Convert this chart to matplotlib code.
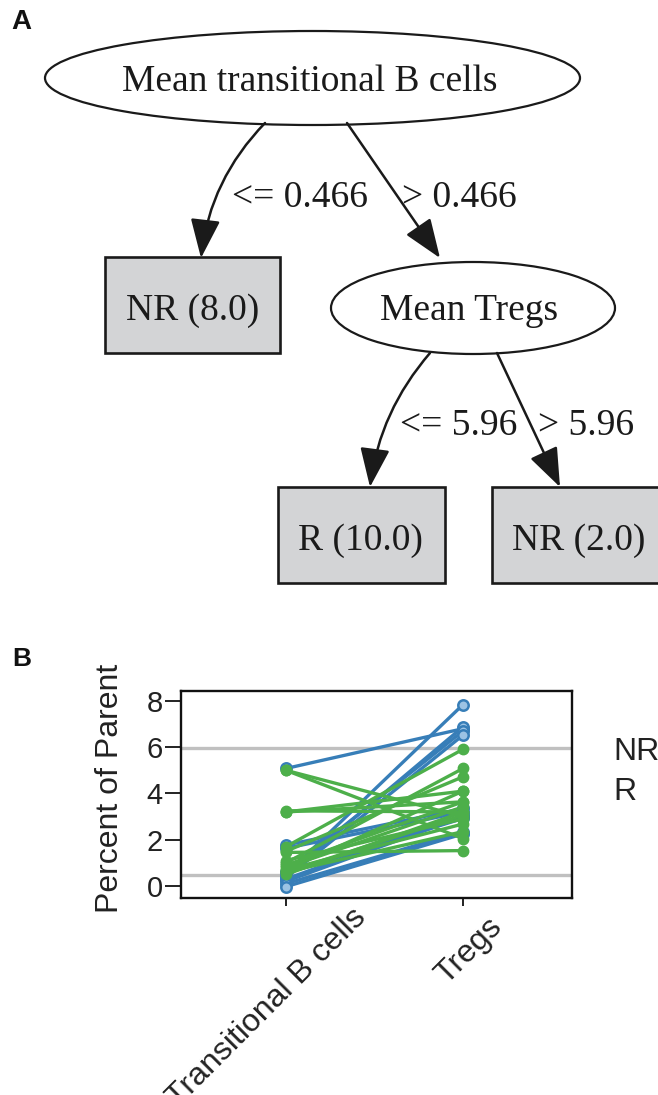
import matplotlib
matplotlib.use("Agg")
import matplotlib.pyplot as plt
from matplotlib.patches import Ellipse, Rectangle, FancyArrowPatch, ArrowStyle
from matplotlib.transforms import ScaledTranslation

# ---------------- data ----------------
categories = ["Transitional B cells", "Tregs"]
thresholds = [0.466, 5.96]          # grey reference lines
group_labels = ["NR", "R"]

# NR (blue) paired values: transitional B cells -> Tregs
nr_transB = [5.08, 0.50, 0.45, 0.60, 0.35, 1.77, 1.63, 0.30, 0.55, 0.20, 0.10, -0.03]
nr_tregs  = [6.80, 7.84, 6.88, 6.70, 6.52, 3.35, 3.20, 3.06, 2.92, 3.00, 2.35, 2.25]

# R (green) paired values
r_transB = [5.00, 5.00, 3.20, 3.25, 3.20, 1.70, 1.45, 1.50, 1.00, 0.90, 0.80, 0.70, 0.60, 0.50, 0.70, 0.60, 1.10]
r_tregs  = [2.05, 3.00, 4.10, 3.20, 3.64, 5.91, 1.53, 4.72, 5.08, 3.64, 3.42, 2.68, 2.35, 3.20, 4.10, 3.06, 2.90]

# tree text
root_text = "Mean transitional B cells"
node2_text = "Mean Tregs"
leaf_texts = ["NR (8.0)", "R (10.0)", "NR (2.0)"]
edge_texts = ["<= 0.466", "> 0.466", "<= 5.96", "> 5.96"]

BLUE = "#377eb8"
GREEN = "#4daf4a"
W, H = 658, 1095

fig = plt.figure(figsize=(W / 100, H / 100), dpi=100)
fig.patch.set_facecolor("white")

# ---------------- panel A (pixel coordinates) ----------------
axA = fig.add_axes([0, 0, 1, 1])
axA.set_xlim(0, W)
axA.set_ylim(H, 0)
axA.axis("off")

serif = ["Liberation Serif", "DejaVu Serif"]
fs_tree = 27
tc = "#1a1a1a"

axA.add_patch(Ellipse((312.5, 78), 535, 94, fill=False, lw=1.6, ec=tc))
axA.text(310, 91, root_text, family=serif, fontsize=fs_tree, ha="center", va="baseline", color=tc)

axA.add_patch(Ellipse((473, 308), 284, 92, fill=False, lw=1.6, ec=tc))
axA.text(469, 320, node2_text, family=serif, fontsize=fs_tree, ha="center", va="baseline", color=tc)

boxes = [(105, 257, 175, 96), (278, 487, 167, 96), (492, 487, 180, 96)]
leaf_pos = [(193, 320), (360, 550), (579, 550)]
for (x, y, w, h), (cx, cy), t in zip(boxes, leaf_pos, leaf_texts):
    axA.add_patch(Rectangle((x, y), w, h, fc="#d3d4d6", ec=tc, lw=1.9))
    axA.text(cx, cy, t, family=serif, fontsize=fs_tree, ha="center", va="baseline", color=tc)

astyle = ArrowStyle("-|>", head_length=1.1, head_width=0.42)
edges = [((265, 123), (201, 258), 0.17),
         ((347, 123), (440, 258), 0.0),
         ((430, 353), (370, 487), 0.15),
         ((497, 353), (560, 487), 0.0)]
for (p0, p1, rad) in edges:
    arr = FancyArrowPatch(p0, p1, arrowstyle=astyle, mutation_scale=22,
                          connectionstyle=f"arc3,rad={rad}", lw=1.8,
                          color=tc, shrinkA=0, shrinkB=0)
    axA.add_patch(arr)

edge_pos = [(232, 207), (402, 207), (400, 435), (538, 435)]
for (x, y), t in zip(edge_pos, edge_texts):
    axA.text(x, y, t, family=serif, fontsize=fs_tree, ha="left", va="baseline", color=tc)

sans = ["Liberation Sans", "DejaVu Sans"]
axA.text(11, 22, "A", family=sans, fontsize=20, fontweight="bold", ha="left", va="center", color="#111111")
axA.text(12, 659, "B", family=sans, fontsize=19, fontweight="bold", ha="left", va="center", color="#111111")

# ---------------- panel B ----------------
left, right, top, bottom = 181, 572, 691, 898
axB = fig.add_axes([left / W, 1 - bottom / H, (right - left) / W, (bottom - top) / H])
xpos = [1, 2]
for thr in thresholds:
    axB.axhline(thr, color="#c0c0c0", lw=2.4, zorder=1)

for a, b in zip(nr_transB, nr_tregs):
    axB.plot(xpos, [a, b], color=BLUE, lw=2.4, marker="o", ms=7.5, mfc="#9cc3e4",
             mec=BLUE, mew=1.8, zorder=2)
for a, b in zip(r_transB, r_tregs):
    axB.plot(xpos, [a, b], color=GREEN, lw=2.4, marker="o", ms=7.5, mfc=GREEN,
             mec=GREEN, zorder=3)

axB.set_xlim(0.407, 2.616)
axB.set_ylim(-0.52, 8.43)
axB.set_yticks([0, 2, 4, 6, 8])
axB.set_xticks(xpos)
axB.set_xticklabels(categories, rotation=45, ha="right", va="baseline",
                    rotation_mode="anchor", family=sans, fontsize=23, color="#222222")
for lab in axB.get_yticklabels():
    lab.set_family(sans)
    lab.set_fontsize(21)
    lab.set_color("#222222")
axB.tick_params(axis="y", length=11.5, width=1.4, color="#222222", pad=1.5)
axB.tick_params(axis="x", length=5.5, width=1.4, color="#222222", pad=0)
# place label ends as in the reference (offsets in pixels -> inches)
label_offsets = [(81, -13), (40, -22)]
for lab, (dx, dy) in zip(axB.get_xticklabels(), label_offsets):
    lab.set_transform(lab.get_transform() + ScaledTranslation(dx / 100, dy / 100, fig.dpi_scale_trans))
for s in axB.spines.values():
    s.set_linewidth(1.7)
    s.set_color("#111111")
axB.set_ylabel("Percent of Parent", family=sans, fontsize=23, color="#222222",
               ha="center", va="center")
axB.yaxis.set_label_coords((110 - left) / (right - left), (bottom - 788.5) / (bottom - top))

fig.text(613 / W, 1 - 752 / H, group_labels[0], family=sans, fontsize=23, va="center", ha="left", color="#222222")
fig.text(613 / W, 1 - 792 / H, group_labels[1], family=sans, fontsize=23, va="center", ha="left", color="#222222")

fig.savefig("out.png", dpi=100, facecolor="white")
